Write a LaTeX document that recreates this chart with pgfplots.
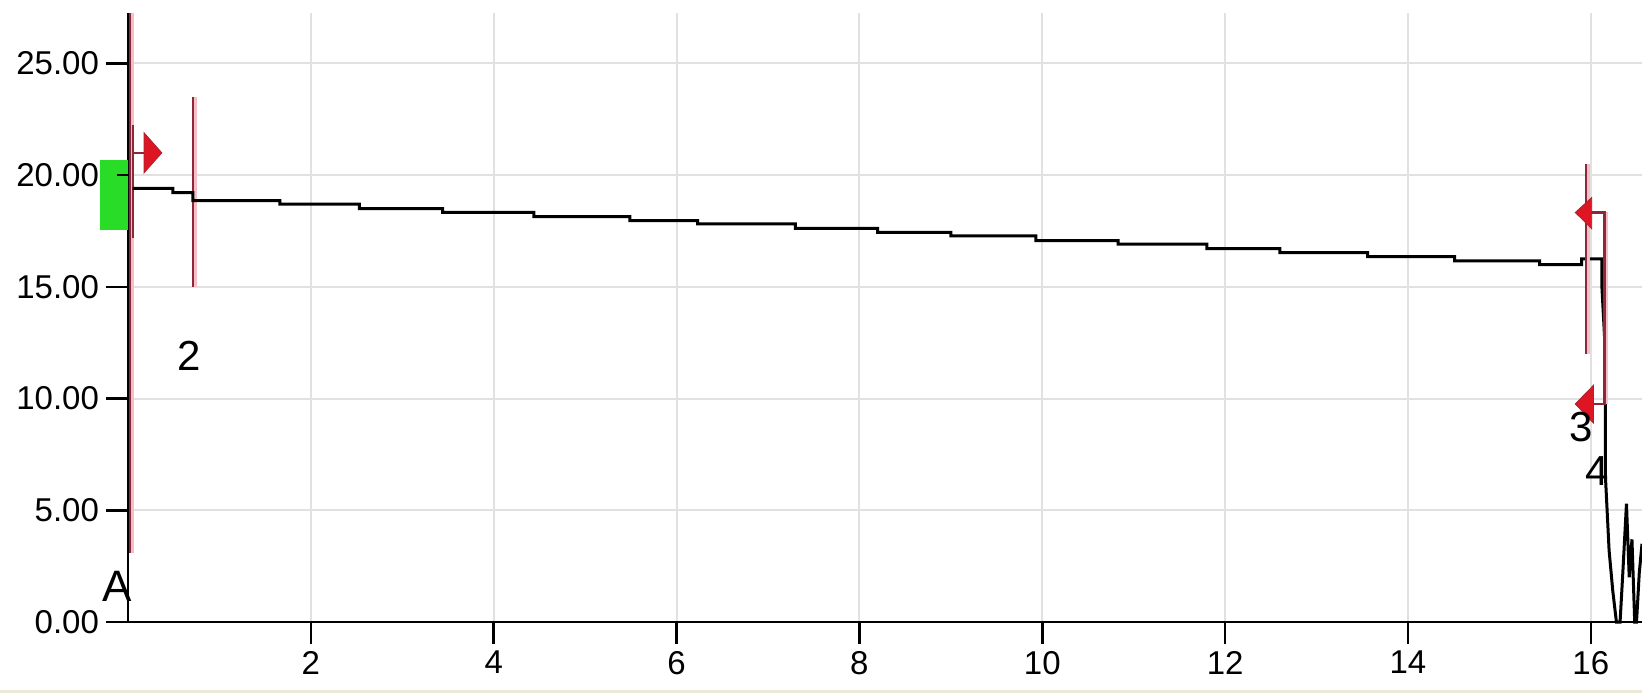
\documentclass[border=0pt]{standalone}
\usepackage{pgfplots}
\pgfplotsset{compat=1.18}
\usepackage{fontspec}
\setmainfont{Liberation Sans}
\definecolor{maroon}{RGB}{140,40,58}
\definecolor{halo}{RGB}{246,190,198}
\definecolor{arrowred}{RGB}{222,22,35}
\definecolor{gridc}{RGB}{225,225,225}
\definecolor{beige}{RGB}{236,233,216}
\definecolor{mygreen}{RGB}{40,220,40}
\begin{document}
\begin{tikzpicture}
\begin{axis}[name=ax, width=757pt, height=304.5pt, scale only axis,
  xmin=0, xmax=16.56, ymin=0, ymax=27.26, clip=false,
  axis lines=left, axis line style={-, black, line width=1.3pt},
  xtick={2,4,...,16}, xticklabels={2,4,6,8,10,12,14,16},
  ytick={0,5,...,25}, yticklabels={0.00,5.00,10.00,15.00,20.00,25.00},
  grid=major, major grid style={gridc, line width=1pt},
  tick align=outside, major tick length=11pt,
  major tick style={black, line width=1.3pt},
  tick label style={font=\fontsize{16.5}{18}\selectfont},
  /pgf/number format/assume math mode=true,
]
% beige bottom band
\addplot[beige, line width=1.5pt] coordinates {(-1.45,-3.1) (16.56,-3.1)};
% green box
\addplot[fill=mygreen, draw=none] coordinates {(-0.31,17.55) (0,17.55) (0,20.7) (-0.31,20.7)} -- cycle;
\addplot[black, line width=1.3pt] coordinates {(-0.12,20) (0,20)};
% red marker line at x=0
\addplot[halo, line width=2.5pt] coordinates {(0.035,3.1) (0.035,27.26)};
\addplot[maroon, line width=1.2pt] coordinates {(0.022,3.1) (0.022,27.26)};
% marker 1 (start)
\addplot[maroon, line width=1.2pt] coordinates {(0.055,22.25) (0.055,17.2)};
\addplot[maroon, line width=1.2pt] coordinates {(0.055,21.0) (0.2,21.0)};
\addplot[fill=arrowred, draw=maroon!70!arrowred, line width=0.4pt] coordinates {(0.175,21.9) (0.37,21.0) (0.175,20.1)} -- cycle;
% marker 2
\addplot[halo, line width=2.5pt] coordinates {(0.725,23.5) (0.725,15.0)};
\addplot[maroon, line width=1.2pt] coordinates {(0.714,23.5) (0.714,15.0)};
% data line
\addplot[black, line width=1.5pt] coordinates {
(0.05,19.41) (0.49,19.41) (0.49,19.22) (0.71,19.22) (0.71,18.86) (1.66,18.86)
(1.66,18.70) (2.53,18.70) (2.53,18.50) (3.44,18.50) (3.44,18.33) (4.44,18.33)
(4.44,18.15) (5.49,18.15) (5.49,17.97) (6.23,17.97) (6.23,17.82) (7.30,17.82)
(7.30,17.62) (8.20,17.62) (8.20,17.44) (9.00,17.44) (9.00,17.28) (9.93,17.28)
(9.93,17.07) (10.83,17.07) (10.83,16.91) (11.80,16.91) (11.80,16.71) (12.60,16.71)
(12.60,16.53) (13.56,16.53) (13.56,16.35) (14.51,16.35) (14.51,16.17) (15.44,16.17)
(15.44,16.00) (15.90,16.00) (15.90,16.25) (16.12,16.25) (16.12,15.10) (16.16,12.0)
(16.16,6.5) (16.20,3.2) (16.24,1.4) (16.28,0) (16.32,0) (16.35,2.2) (16.39,5.3)
(16.42,2.0) (16.45,3.7) (16.48,0) (16.50,0) (16.53,2.2) (16.56,3.5)};
% markers 3 and 4
\addplot[halo, line width=2.5pt] coordinates {(15.965,20.5) (15.965,12.0)};
\addplot[maroon, line width=1.2pt] coordinates {(15.95,20.5) (15.95,12.0)};
\addplot[halo, line width=2.5pt] coordinates {(16.165,18.33) (16.165,9.76)};
\addplot[maroon, line width=1.2pt] coordinates {(15.95,18.33) (16.15,18.33) (16.15,9.76) (15.95,9.76)};
\addplot[fill=arrowred, draw=maroon!70!arrowred, line width=0.4pt] coordinates {(16.01,19.0) (15.83,18.33) (16.01,17.6)} -- cycle;
\addplot[fill=arrowred, draw=maroon!70!arrowred, line width=0.4pt] coordinates {(16.03,10.6) (15.83,9.76) (16.03,8.9)} -- cycle;
% labels
\node[font=\fontsize{21}{24}\selectfont] at (axis cs:0.67,11.9) {2};
\node[font=\fontsize{21}{24}\selectfont] at (axis cs:15.89,8.73) {3};
\node[font=\fontsize{21}{24}\selectfont] at (axis cs:16.07,6.76) {4};
\node[font=\fontsize{22}{24}\selectfont] at (axis cs:-0.12,1.6) {A};
\end{axis}
\pgfresetboundingbox
\path ([shift={(-64pt,-37pt)}]ax.south west) rectangle ([shift={(0pt,6.5pt)}]ax.north east);
\end{tikzpicture}
\end{document}
